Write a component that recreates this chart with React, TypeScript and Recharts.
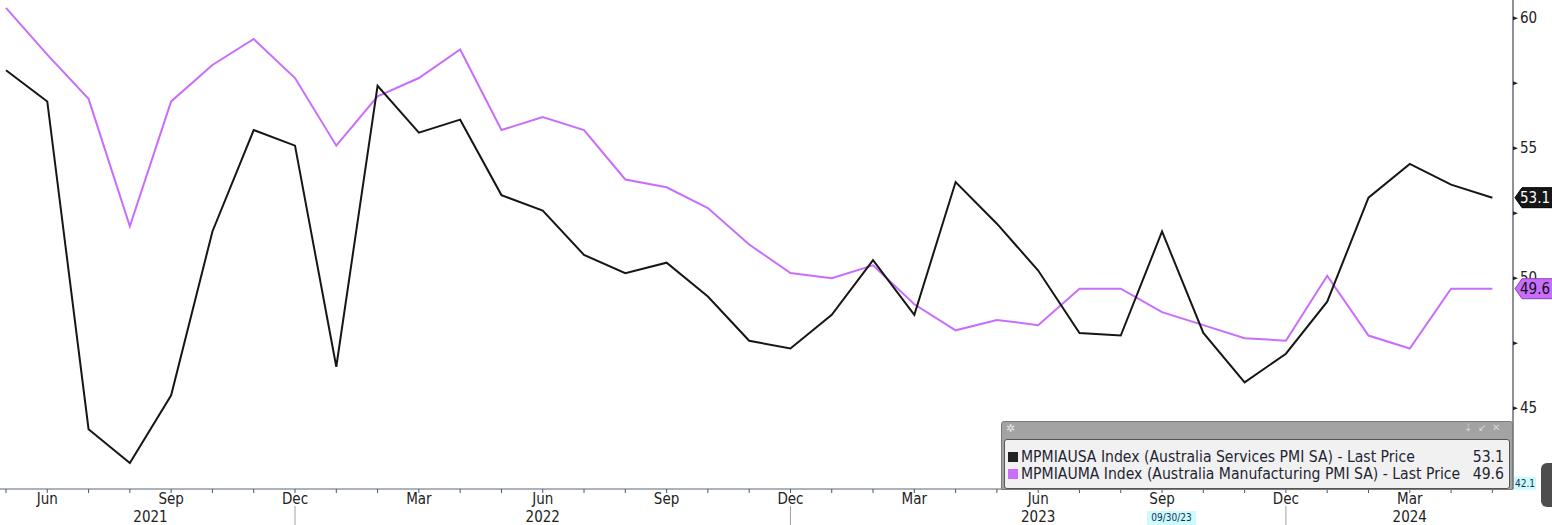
import { LineChart, Line, XAxis, YAxis } from 'recharts'

// monthly readings, May 2021 -> May 2024
const periods = [
  '2021-05', '2021-06', '2021-07', '2021-08', '2021-09', '2021-10', '2021-11', '2021-12',
  '2022-01', '2022-02', '2022-03', '2022-04', '2022-05', '2022-06', '2022-07', '2022-08',
  '2022-09', '2022-10', '2022-11', '2022-12', '2023-01', '2023-02', '2023-03', '2023-04',
  '2023-05', '2023-06', '2023-07', '2023-08', '2023-09', '2023-10', '2023-11', '2023-12',
  '2024-01', '2024-02', '2024-03', '2024-04', '2024-05',
]
const services = [
  58.0, 56.8, 44.2, 42.9, 45.5, 51.8, 55.7, 55.1,
  46.6, 57.4, 55.6, 56.1, 53.2, 52.6, 50.9, 50.2,
  50.6, 49.3, 47.6, 47.3, 48.6, 50.7, 48.6, 53.7,
  52.1, 50.3, 47.9, 47.8, 51.8, 47.9, 46.0, 47.1,
  49.1, 53.1, 54.4, 53.6, 53.1,
]
const manufacturing = [
  60.4, 58.6, 56.9, 52.0, 56.8, 58.2, 59.2, 57.7,
  55.1, 57.0, 57.7, 58.8, 55.7, 56.2, 55.7, 53.8,
  53.5, 52.7, 51.3, 50.2, 50.0, 50.5, 49.0, 48.0,
  48.4, 48.2, 49.6, 49.6, 48.7, 48.2, 47.7, 47.6,
  50.1, 47.8, 47.3, 49.6, 49.6,
]
const monthNames = ['Jan', 'Feb', 'Mar', 'Apr', 'May', 'Jun', 'Jul', 'Aug', 'Sep', 'Oct', 'Nov', 'Dec']
const labelledMonths = ['Jun', 'Sep', 'Dec', 'Mar']
const majorTicks = [45, 50, 55, 60]
const minorTicks = [47.5, 52.5, 57.5]
const axisLow = 42.1

const BLACK = '#161616'
const PURPLE = '#c86dfc'
const FONT = '"DejaVu Sans Condensed", "DejaVu Sans", sans-serif'

const data = periods.map((p, i) => ({ i, p, services: services[i], manufacturing: manufacturing[i] }))

const lastServices = services[services.length - 1]
const lastManufacturing = manufacturing[manufacturing.length - 1]

// year separators sit on the December ticks, year names centred between them
const decIdx = periods.map((p, i) => (p.endsWith('-12') ? i : -1)).filter(i => i >= 0)
const bounds = [0, ...decIdx, periods.length]
const yearCenters = bounds.slice(0, -1).map((b, k) => (b + bounds[k + 1]) / 2)
const yearNames = yearCenters.map((_, k) => String(Number(periods[0].slice(0, 4)) + k))

// month ticks first, year-name ticks after them (told apart by tick index)
const xTicks = [...periods.map((_, i) => i), ...yearCenters]

function MonthTick(props: any) {
  const { x, y, payload, index } = props
  const v = payload.value
  if (index >= periods.length) {
    return (
      <text x={x} y={y + 33} textAnchor="middle" fontSize={15} fill="#222" fontFamily={FONT}>
        {yearNames[index - periods.length]}
      </text>
    )
  }
  const name = monthNames[Number(periods[v].slice(5)) - 1]
  return (
    <g>
      <line x1={x} x2={x} y1={y} y2={y + 4} stroke="#4a5566" />
      {labelledMonths.includes(name) && (
        <text x={x} y={y + 15} textAnchor="middle" fontSize={15} fill="#222" fontFamily={FONT}>
          {name}
        </text>
      )}
      {name === 'Dec' && <line x1={x} x2={x} y1={y + 17} y2={y + 40} stroke="#9aa3ad" />}
    </g>
  )
}

function PriceTick(props: any) {
  const { x, y, payload } = props
  const v = payload.value
  if (v === lastServices || v === lastManufacturing) {
    const dark = v === lastServices
    return (
      <g>
        <polygon
          points={`${x + 2},${y} ${x + 9},${y - 10} ${x + 40},${y - 10} ${x + 40},${y + 10} ${x + 9},${y + 10}`}
          fill={dark ? BLACK : PURPLE}
          stroke={dark ? '#000' : '#8a3fc0'}
        />
        <text x={x + 7} y={y + 5} fontSize={15} fill={dark ? '#fff' : '#111'} fontFamily={FONT}>
          {v.toFixed(1)}
        </text>
      </g>
    )
  }
  if (v === axisLow) {
    return (
      <g>
        <rect x={x + 1} y={y - 7} width={22} height={13} fill="#cdfbfb" />
        <text x={x + 2} y={y + 3} fontSize={10} fill="#1a3060" fontFamily={FONT}>
          {v.toFixed(1)}
        </text>
      </g>
    )
  }
  const major = majorTicks.includes(v)
  return (
    <g>
      <polygon points={`${x},${y - 2} ${x + 5},${y} ${x},${y + 2}`} fill="#1d2330" />
      {major && (
        <text x={x + 7} y={y + 5} fontSize={15} fill="#222" fontFamily={FONT}>
          {v}
        </text>
      )}
    </g>
  )
}

function LegendBox() {
  const row = { display: 'flex', alignItems: 'center', height: 17, whiteSpace: 'nowrap' as const }
  const sq = (c: string) => (
    <span style={{ display: 'inline-block', width: 10, height: 10, background: c, marginRight: 3 }} />
  )
  return (
    <div
      style={{
        position: 'absolute', left: 1001, top: 421, width: 512, height: 69, boxSizing: 'border-box',
        background: '#a3a3a3', border: '1px solid #7a7a7a', borderRadius: '3px 3px 0 0',
      }}
    >
      <div style={{ position: 'absolute', left: 4, top: 0, fontSize: 11, color: '#e8e8e8' }}>✲</div>
      <div style={{ position: 'absolute', right: 6, top: 0, fontSize: 10, color: '#d8d8d8', letterSpacing: 6 }}>
        ⇣↙✕
      </div>
      <div
        style={{
          position: 'absolute', left: 2, right: 2, top: 17, bottom: 0, background: '#f1f1f1',
          border: '1px solid #555', borderRadius: 3, padding: '8px 5px 0 3px',
          fontFamily: FONT, fontSize: 15.6, color: '#1f2433',
        }}
      >
        <div style={row}>
          {sq('#222')}
          <span style={{ flex: 1 }}>MPMIAUSA Index (Australia Services PMI SA) - Last Price</span>
          <span style={{ marginLeft: 5 }}>{lastServices.toFixed(1)}</span>
        </div>
        <div style={row}>
          {sq(PURPLE)}
          <span style={{ flex: 1 }}>MPMIAUMA Index (Australia Manufacturing PMI SA) - Last Price</span>
          <span style={{ marginLeft: 5 }}>{lastManufacturing.toFixed(1)}</span>
        </div>
      </div>
    </div>
  )
}

export default function App() {
  return (
    <div style={{ position: 'absolute', left: 0, top: 0, width: 1552, height: 525, background: '#fff', overflow: 'hidden' }}>
      <LineChart width={1552} height={525} data={data} margin={{ top: 0, right: 0, bottom: 0, left: 0 }}>
        <XAxis
          dataKey="i"
          type="number"
          domain={[-0.145, 36.5]}
          allowDataOverflow
          ticks={xTicks}
          interval={0}
          tick={<MonthTick />}
          tickLine={false}
          tickSize={0}
          tickMargin={0}
          height={36}
          stroke="#5b6677"
        />
        <YAxis
          orientation="right"
          type="number"
          domain={[41.9, 60.7]}
          allowDataOverflow
          ticks={[axisLow, ...majorTicks, ...minorTicks, lastManufacturing, lastServices]}
          interval={0}
          tick={<PriceTick />}
          tickLine={false}
          tickSize={0}
          tickMargin={0}
          width={39}
          stroke="#1d2330"
        />
        <Line dataKey="manufacturing" stroke={PURPLE} strokeWidth={2} dot={false} activeDot={false} isAnimationActive={false} />
        <Line dataKey="services" stroke={BLACK} strokeWidth={2} dot={false} activeDot={false} isAnimationActive={false} />
      </LineChart>
      <LegendBox />
      <div
        style={{
          position: 'absolute', left: 1147, top: 511, width: 49, height: 14, background: '#cdfbfb',
          fontFamily: FONT, fontSize: 10, color: '#1a3060', textAlign: 'center', lineHeight: '14px',
        }}
      >
        09/30/23
      </div>
      <div
        style={{
          position: 'absolute', left: 1541, top: 463, width: 16, height: 44, background: '#4d4d4d',
          borderRadius: 6,
        }}
      />
    </div>
  )
}
